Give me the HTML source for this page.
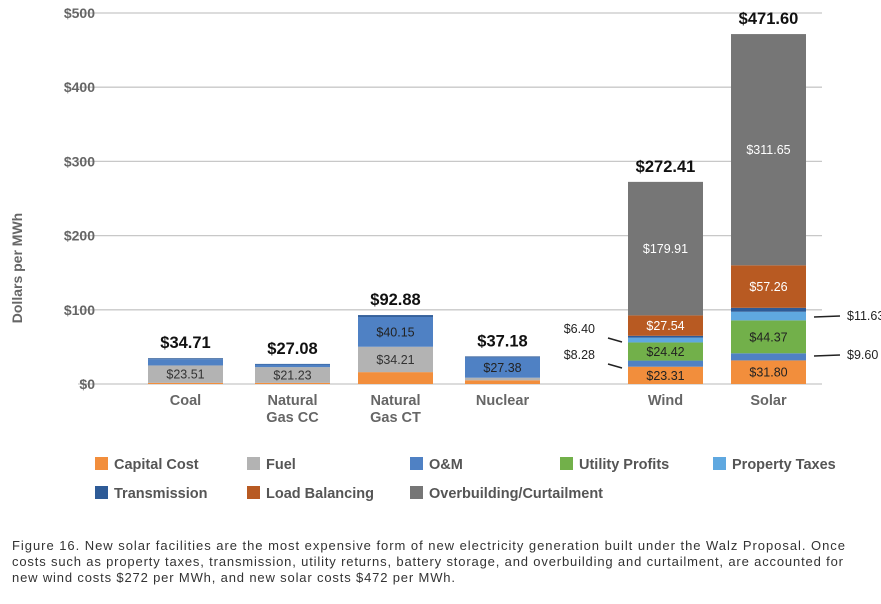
<!DOCTYPE html>
<html><head><meta charset="utf-8"><style>
body{margin:0;background:#fff;font-family:"Liberation Sans",sans-serif;}
svg text{font-family:"Liberation Sans",sans-serif;}
</style></head><body>
<svg id="c" width="881" height="599"></svg>
<script>
const categories=["Coal","Natural Gas CC","Natural Gas CT","Nuclear","Wind","Solar"];
const seriesNames=["Capital Cost","Fuel","O&M","Utility Profits","Property Taxes","Transmission","Load Balancing","Overbuilding/Curtailment"];
const capital=[1.5,1.5,16,5,23.31,31.80];
const fuel=[23.51,21.23,34.21,3.5,0,0];
const om=[8.5,3.5,40.15,27.38,8.28,9.60];
const utility=[0,0,0,0,24.42,44.37];
const propTax=[0,0,0,0,6.40,11.63];
const transmission=[1.2,0.85,2.52,1.3,2.55,5.29];
const loadBal=[0,0,0,0,27.54,57.26];
const overbuild=[0,0,0,0,179.91,311.65];
const totals=["$34.71","$27.08","$92.88","$37.18","$272.41","$471.60"];
const yTicks=[0,100,200,300,400,500];
const inLabels=[[null,"$23.51",null,null,null,null,null,null],[null,"$21.23",null,null,null,null,null,null],[null,"$34.21","$40.15",null,null,null,null,null],[null,null,"$27.38",null,null,null,null,null],["$23.31",null,null,"$24.42",null,null,"$27.54","$179.91"],["$31.80",null,null,"$44.37",null,null,"$57.26","$311.65"]];
const series=[capital,fuel,om,utility,propTax,transmission,loadBal,overbuild];
const colors=["#f28e3c","#b3b3b3","#4f81c4","#72b04a","#5fa8e0","#2e5b97","#b85a22","#767676"];
const txtCol=["#222","#333","#222","#222","#222","#222","#fff","#fff"];
const order=[0,1,2,3,4,5,6,7];
const barX=[148,255,358,465,628,731], barW=75;
const y=v=>384-v*0.742;
const svg=document.getElementById('c');const NS="http://www.w3.org/2000/svg";
function mk(t,a,txt){const e=document.createElementNS(NS,t);for(const k in a)e.setAttribute(k,a[k]);if(txt!=null)e.textContent=txt;svg.appendChild(e);return e;}
yTicks.forEach(t=>{const g=mk('line',{x1:78,x2:822,y1:y(t),y2:y(t),stroke:'#c8c8c8','stroke-width':1.3});


const l=mk('text',{x:95,y:y(t)+5,'text-anchor':'end','font-size':14,'font-weight':'bold',fill:'#666'},'$'+t);

});
const yt=mk('text',{x:22,y:268,'text-anchor':'middle','font-size':14,'font-weight':'bold',fill:'#666',transform:'rotate(-90 22 268)'},'Dollars per MWh');


categories.forEach((c,i)=>{let acc=0;
order.forEach(s=>{const v=series[s][i];if(!v)return;const r=mk('rect',{x:barX[i],y:y(acc+v),width:barW,height:v*0.742,fill:colors[s]});


const lab=inLabels[i][s];if(lab){const t=mk('text',{x:barX[i]+barW/2,y:y(acc+v/2)+4.5,'text-anchor':'middle','font-size':12.5,fill:txtCol[s]},lab);

}
acc+=v;});
const tot=series.reduce((a,s)=>a+s[i],0);
const tl=mk('text',{x:barX[i]+barW/2,y:y(tot)-10,'text-anchor':'middle','font-size':16.5,'font-weight':'bold',fill:'#111'},totals[i]);


const parts=c==="Natural Gas CC"?["Natural","Gas CC"]:c==="Natural Gas CT"?["Natural","Gas CT"]:[c];
parts.forEach((p,k)=>{const cl=mk('text',{x:barX[i]+barW/2,y:405+k*17,'text-anchor':'middle','font-size':14.5,'font-weight':'bold',fill:'#666'},p);

});});
[[595,333,"$6.40",608,338,622,342],[595,359,"$8.28",608,364,622,368]].forEach(a=>{const t=mk('text',{x:a[0],y:a[1],'text-anchor':'end','font-size':12.5,fill:'#222'},a[2]);const l=mk('line',{x1:a[3],y1:a[4],x2:a[5],y2:a[6],stroke:'#222','stroke-width':1.5});});
[[320,"$11.63"],[359,"$9.60"]].forEach(a=>{const l=mk('line',{x1:814,y1:a[0]-3,x2:840,y2:a[0]-4,stroke:'#222','stroke-width':1.5});const t=mk('text',{x:847,y:a[0],'font-size':12.5,fill:'#222'},a[1]);});
const lp=[[95,464],[247,464],[410,464],[560,464],[713,464],[95,493],[247,493],[410,493]];
seriesNames.forEach((n,i)=>{const r=mk('rect',{x:lp[i][0],y:lp[i][1]-7,width:13,height:13,fill:colors[i]});
const t=mk('text',{x:lp[i][0]+19,y:lp[i][1]+5,'font-size':14.5,'font-weight':'bold',fill:'#555'},n);});
const capLens=[833,831,443];
["Figure 16. New solar facilities are the most expensive form of new electricity generation built under the Walz Proposal. Once","costs such as property taxes, transmission, utility returns, battery storage, and overbuilding and curtailment, are accounted for","new wind costs $272 per MWh, and new solar costs $472 per MWh."].forEach((s,k)=>{const t=mk('text',{x:12,y:550+k*16,'font-size':13,fill:'#333',textLength:capLens[k],lengthAdjust:'spacing'},s);});
</script>
</body></html>
